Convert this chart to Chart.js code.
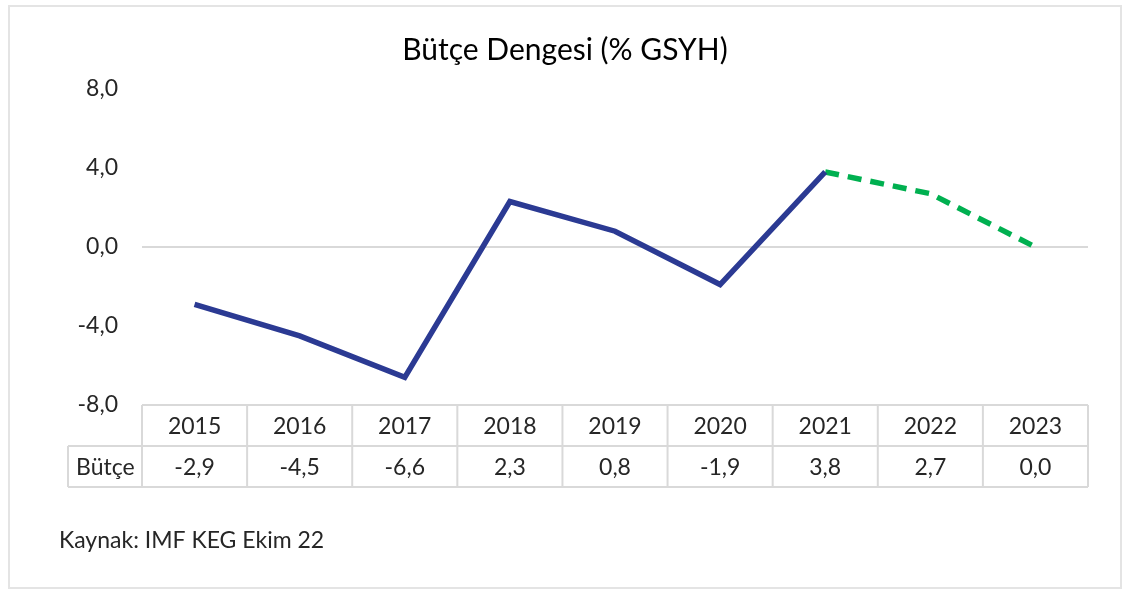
<!DOCTYPE html>
<html lang="tr">
<head>
    <meta charset="UTF-8">
    <title>Bütçe Dengesi (% GSYH)</title>
    <script src="https://cdn.jsdelivr.net/npm/chart.js"></script>
    <style>
        body {
            margin: 0;
            background: #fff;
        }
        .frame {
            position: absolute;
            left: 8px;
            top: 5px;
            width: 1110px;
            height: 580px;
            border: 2px solid #e4e4e4;
        }
    </style>
</head>
<body>
    <div class="frame">
        <canvas id="budgetChart" width="1110" height="580"></canvas>
    </div>

    <script>
        const years = ['2015', '2016', '2017', '2018', '2019', '2020', '2021', '2022', '2023'];
        const budget = [-2.9, -4.5, -6.6, 2.3, 0.8, -1.9, 3.8, 2.7, 0.0];
        const actual = [-2.9, -4.5, -6.6, 2.3, 0.8, -1.9, 3.8, null, null];
        const forecast = [null, null, null, null, null, null, 3.8, 2.7, 0.0];
        const rowLabel = 'Bütçe';
        const chartTitle = 'Bütçe Dengesi (% GSYH)';
        const sourceNote = 'Kaynak: IMF KEG Ekim 22';

        const FONT = 'Lato';
        const TEXT = '#262626';
        const LINE = '#d9d9d9';

        function fmt(v) {
            return v.toFixed(1).replace('.', ',');
        }

        // data table under the plot + title + source line
        const tablePlugin = {
            id: 'dataTable',
            afterDraw(chart) {
                const ctx = chart.ctx;
                const area = chart.chartArea;
                const xs = chart.scales.x;
                const colW = (area.right - area.left) / years.length;
                const top = area.bottom;
                const rowH = 41;
                const labelLeft = 58;

                ctx.save();
                ctx.strokeStyle = LINE;
                ctx.lineWidth = 2;
                ctx.beginPath();
                // horizontal lines
                ctx.moveTo(area.left, top); ctx.lineTo(area.right, top);
                ctx.moveTo(labelLeft, top + rowH); ctx.lineTo(area.right, top + rowH);
                ctx.moveTo(labelLeft, top + 2 * rowH); ctx.lineTo(area.right, top + 2 * rowH);
                // vertical lines
                ctx.moveTo(labelLeft, top + rowH); ctx.lineTo(labelLeft, top + 2 * rowH);
                for (let i = 0; i <= years.length; i++) {
                    const x = area.left + i * colW;
                    ctx.moveTo(x, top); ctx.lineTo(x, top + 2 * rowH);
                }
                ctx.stroke();

                ctx.fillStyle = TEXT;
                ctx.font = '23px ' + FONT;
                ctx.textAlign = 'center';
                ctx.textBaseline = 'middle';
                years.forEach((y, i) => {
                    const cx = xs.getPixelForValue(i);
                    ctx.fillText(y, cx, top + rowH / 2 + 1);
                    ctx.fillText(fmt(budget[i]), cx, top + rowH * 1.5 + 1);
                });
                ctx.textAlign = 'left';
                ctx.fillText(rowLabel, labelLeft + 8, top + rowH * 1.5 + 1);

                ctx.font = '23px ' + FONT;
                ctx.fillText(sourceNote, 49, 534);

                ctx.font = '30px ' + FONT;
                ctx.textAlign = 'center';
                ctx.fillStyle = '#000';
                ctx.fillText(chartTitle, chart.width / 2, 43);
                ctx.restore();
            }
        };

        const ctx = document.getElementById('budgetChart').getContext('2d');
        const budgetChart = new Chart(ctx, {
            type: 'line',
            data: {
                labels: years,
                datasets: [{
                    label: 'Bütçe',
                    data: actual,
                    borderColor: '#2b3a93',
                    borderWidth: 5.5,
                    pointRadius: 0,
                    tension: 0,
                    fill: false
                }, {
                    label: 'Tahmin',
                    data: forecast,
                    borderColor: '#00b050',
                    borderWidth: 5.5,
                    borderDash: [14, 9],
                    pointRadius: 0,
                    tension: 0,
                    fill: false
                }]
            },
            plugins: [tablePlugin],
            options: {
                responsive: false,
                animation: false,
                layout: {
                    padding: { top: 82, left: 59, right: 32, bottom: 182 }
                },
                plugins: {
                    legend: { display: false },
                    title: { display: false },
                    tooltip: { enabled: false }
                },
                scales: {
                    x: {
                        display: false,
                        offset: true
                    },
                    y: {
                        min: -8,
                        max: 8,
                        afterFit(scale) { scale.width = 73; },
                        border: { display: false },
                        grid: {
                            drawTicks: false,
                            lineWidth: 2,
                            color: c => c.tick.value === 0 ? LINE : 'transparent'
                        },
                        ticks: {
                            stepSize: 4,
                            padding: 24,
                            color: TEXT,
                            font: { family: FONT, size: 23 },
                            callback: v => fmt(v)
                        }
                    }
                }
            }
        });
    </script>
</body>
</html>
